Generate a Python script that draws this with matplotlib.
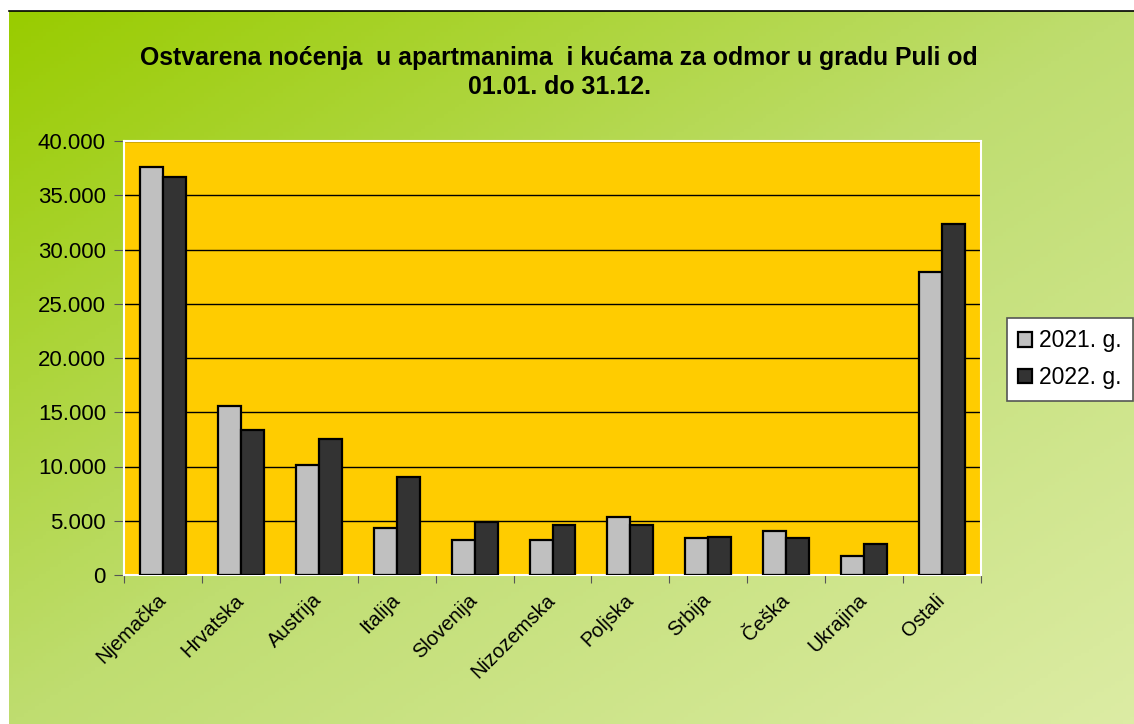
import numpy as np
import matplotlib.pyplot as plt
from matplotlib.colors import LinearSegmentedColormap

plt.rcParams['font.family'] = ['Liberation Sans', 'DejaVu Sans']

# data
countries = ['Njemačka', 'Hrvatska', 'Austrija', 'Italija', 'Slovenija', 'Nizozemska',
             'Poljska', 'Srbija', 'Češka', 'Ukrajina', 'Ostali']
nights_2021 = [37600, 15600, 10150, 4350, 3200, 3200, 5350, 3380, 4060, 1720, 27900]
nights_2022 = [36650, 13350, 12500, 9060, 4870, 4600, 4640, 3530, 3380, 2830, 32350]
series_labels = ['2021. g.', '2022. g.']
title = 'Ostvarena noćenja  u apartmanima  i kućama za odmor u gradu Puli od\n01.01. do 31.12.'

W, H = 1134, 724
fig = plt.figure(figsize=(W / 100, H / 100), dpi=100)
fig.patch.set_facecolor('white')

# green gradient background (chart area)
bg = fig.add_axes([9 / W, 0, 1 - 9 / W, (H - 11) / H], zorder=-5)
gx, gy = np.meshgrid(np.linspace(0, 1, 300), np.linspace(0, 1, 200))
t = (gx + gy) / 2
cmap = LinearSegmentedColormap.from_list('bg', ['#99cc00', '#bfdd70', '#dcecA4'])
bg.imshow(t, cmap=cmap, aspect='auto', extent=[0, 1, 1, 0], vmin=0, vmax=1)
bg.set_xlim(0, 1)
bg.set_ylim(1, 0)
bg.axis('off')
fig.add_artist(plt.Line2D([9 / W, 1], [(H - 11) / H] * 2, color='black', lw=1.2))

ax = fig.add_axes([124 / W, (H - 575) / H, (981 - 124) / W, (575 - 141) / H])
ax.set_facecolor('#ffcc00')

x = np.arange(len(countries))
w = 0.295
ax.bar(x - w / 2, nights_2021, w, color='#c0c0c0', edgecolor='black', lw=1.6,
       label=series_labels[0], zorder=3)
ax.bar(x + w / 2, nights_2022, w, color='#333333', edgecolor='black', lw=1.6,
       label=series_labels[1], zorder=3)

ax.set_xlim(-0.5, len(countries) - 0.5)
ax.set_ylim(0, 40000)
ax.set_yticks(np.arange(0, 40001, 5000))
ax.set_yticklabels(['{:,}'.format(v).replace(',', '.') for v in range(0, 40001, 5000)])
ax.yaxis.grid(True, color='black', lw=1.0, zorder=1)
ax.set_axisbelow(True)

ax.set_xticks(np.arange(-0.5, len(countries), 1))
ax.set_xticklabels([])
ax.set_xticks(x, minor=True)
ax.set_xticklabels(countries, minor=True, rotation=45, ha='right', va='center',
                   rotation_mode='anchor', fontsize=14.5)
ax.tick_params(axis='x', which='minor', length=0, pad=16)
ax.tick_params(axis='x', which='major', length=6, color='#555555', direction='out')
ax.tick_params(axis='y', length=7, color='#555555', direction='out', labelsize=16, pad=6)

for s in ax.spines.values():
    s.set_color('white')
    s.set_linewidth(1.5)

fig.text(0.493, 0.9, title, ha='center', va='center', fontsize=17.9,
         fontweight='bold', linespacing=1.25)

leg = fig.legend(loc='upper left', bbox_to_anchor=(1007 / W, (H - 318) / H),
                 fontsize=16.5, frameon=True, fancybox=False, edgecolor='#555555',
                 framealpha=1, facecolor='white',
                 handlelength=0.6, handleheight=0.6, handletextpad=0.3,
                 borderpad=0.5, labelspacing=0.6, borderaxespad=0)
leg.get_frame().set_linewidth(1.2)

fig.savefig('out.png', dpi=100)
